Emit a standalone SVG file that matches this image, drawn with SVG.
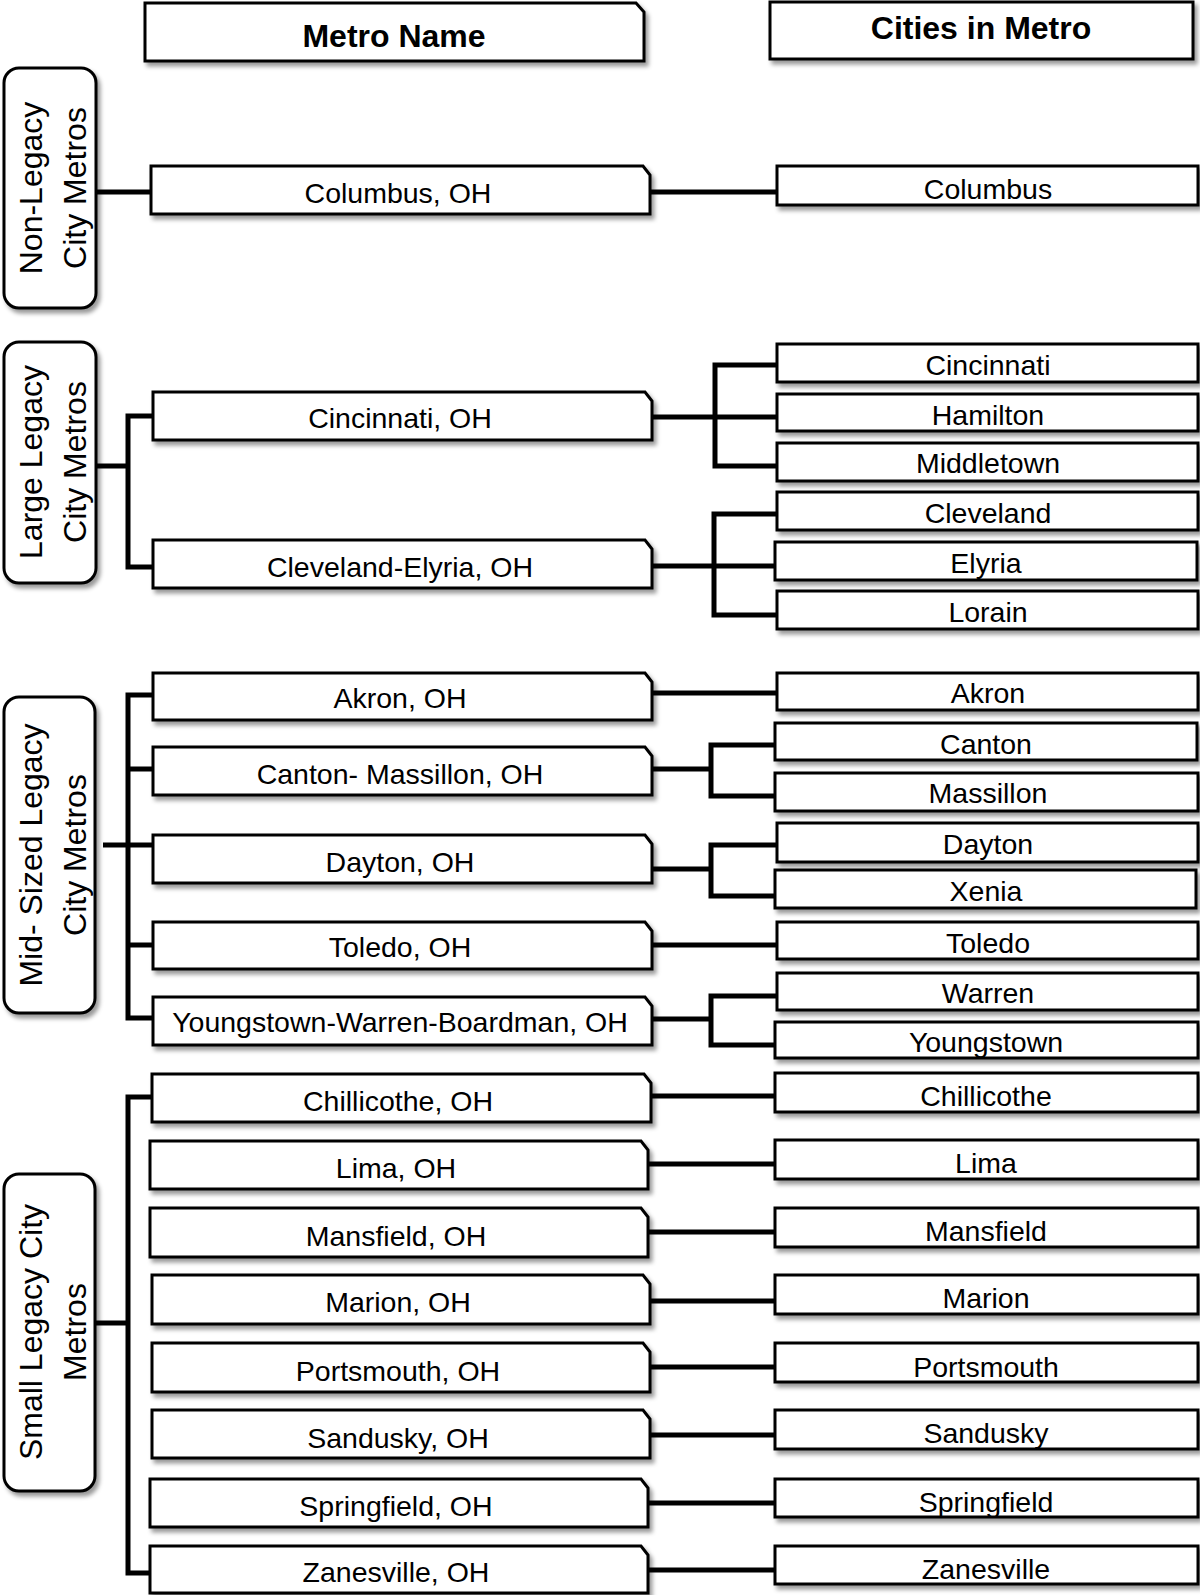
<svg xmlns="http://www.w3.org/2000/svg" width="1200" height="1595" viewBox="0 0 1200 1595">
<defs>
<filter id="sh" x="-5%" y="-20%" width="115%" height="160%">
<feDropShadow dx="3" dy="4" stdDeviation="2" flood-color="#000" flood-opacity="0.4"/>
</filter>
<style>
.box{fill:#fff;stroke:#000;stroke-width:3;filter:url(#sh)}
.cat{fill:#fff;stroke:#000;stroke-width:3;filter:url(#sh)}
.conn{fill:none;stroke:#000;stroke-width:5}
text{font-family:"Liberation Sans",Arial,sans-serif;fill:#000;text-anchor:middle}
.t{font-size:28.5px}
.h{font-size:32px;font-weight:bold}
.r{font-size:32px}
</style>
</defs>
<rect width="1200" height="1595" fill="#fff"/>

<g id="connectors">
<path class="conn" d="M96 192 H152 M650 192 H777"/>
<path class="conn" d="M96 466 H128 M153 416 H128 V567 H153"/>
<path class="conn" d="M777 365 H715 V466 H777 M652 417 H777"/>
<path class="conn" d="M777 514 H714 V615 H777 M652 566 H777"/>
<path class="conn" d="M103 845 H153 M153 695 H128 V1018 H153 M128 769 H153 M128 945 H153"/>
<path class="conn" d="M652 693 H777"/>
<path class="conn" d="M775 745 H711 V796 H775 M652 769 H711"/>
<path class="conn" d="M777 845 H711 V896 H775 M652 869 H711"/>
<path class="conn" d="M652 945 H777"/>
<path class="conn" d="M777 996 H711 V1045 H775 M652 1019 H711"/>
<path class="conn" d="M95 1323 H128 M152 1097 H128 V1573 H150"/>
<path class="conn" d="M651 1096 H775 M648 1164 H775 M648 1232 H775 M650 1301 H775 M650 1367 H775 M650 1435 H775 M648 1503 H775 M648 1570 H775"/>
</g>

<g id="hdr-metro"><path class="box" d="M145 3 H636 L644 12 V61 H145 Z"/><text class="h" x="394" y="47">Metro Name</text></g>
<g id="hdr-cities"><rect class="box" x="770" y="2" width="423" height="57"/><text class="h" x="981" y="39">Cities in Metro</text></g>

<g id="cat-nonlegacy"><rect class="cat" x="4" y="68" width="92" height="240" rx="15"/>
<text class="r" transform="translate(42 188) rotate(-90)">Non-Legacy</text>
<text class="r" transform="translate(86 188) rotate(-90)">City Metros</text></g>
<g id="cat-large"><rect class="cat" x="4" y="342" width="92" height="241" rx="15"/>
<text class="r" transform="translate(42 462) rotate(-90)">Large Legacy</text>
<text class="r" transform="translate(86 462) rotate(-90)">City Metros</text></g>
<g id="cat-mid"><rect class="cat" x="4" y="697" width="91" height="316" rx="15"/>
<text class="r" transform="translate(42 855) rotate(-90)">Mid- Sized Legacy</text>
<text class="r" transform="translate(86 855) rotate(-90)">City Metros</text></g>
<g id="cat-small"><rect class="cat" x="4" y="1174" width="91" height="317" rx="15"/>
<text class="r" transform="translate(42 1332) rotate(-90)">Small Legacy City</text>
<text class="r" transform="translate(86 1332) rotate(-90)">Metros</text></g>

<g id="m-columbus"><path class="box" d="M151 166 H643 L650 175 V214 H151 Z"/><text class="t" x="398" y="203">Columbus, OH</text></g>
<g id="m-cincinnati"><path class="box" d="M153 392 H645 L652 401 V440 H153 Z"/><text class="t" x="400" y="428">Cincinnati, OH</text></g>
<g id="m-cleveland"><path class="box" d="M153 540 H645 L652 549 V588 H153 Z"/><text class="t" x="400" y="577">Cleveland-Elyria, OH</text></g>
<g id="m-akron"><path class="box" d="M153 673 H645 L652 682 V720 H153 Z"/><text class="t" x="400" y="708">Akron, OH</text></g>
<g id="m-canton"><path class="box" d="M153 747 H645 L652 756 V795 H153 Z"/><text class="t" x="400" y="784">Canton- Massillon, OH</text></g>
<g id="m-dayton"><path class="box" d="M153 835 H645 L652 844 V883 H153 Z"/><text class="t" x="400" y="872">Dayton, OH</text></g>
<g id="m-toledo"><path class="box" d="M153 922 H645 L652 931 V969 H153 Z"/><text class="t" x="400" y="957">Toledo, OH</text></g>
<g id="m-youngstown"><path class="box" d="M153 997 H645 L652 1006 V1045 H153 Z"/><text class="t" x="400" y="1032">Youngstown-Warren-Boardman, OH</text></g>
<g id="m-chillicothe"><path class="box" d="M152 1074 H644 L651 1083 V1122 H152 Z"/><text class="t" x="398" y="1111">Chillicothe, OH</text></g>
<g id="m-lima"><path class="box" d="M150 1141 H641 L648 1150 V1189 H150 Z"/><text class="t" x="396" y="1178">Lima, OH</text></g>
<g id="m-mansfield"><path class="box" d="M150 1208 H641 L648 1217 V1257 H150 Z"/><text class="t" x="396" y="1246">Mansfield, OH</text></g>
<g id="m-marion"><path class="box" d="M152 1275 H643 L650 1284 V1324 H152 Z"/><text class="t" x="398" y="1312">Marion, OH</text></g>
<g id="m-portsmouth"><path class="box" d="M152 1343 H643 L650 1352 V1392 H152 Z"/><text class="t" x="398" y="1381">Portsmouth, OH</text></g>
<g id="m-sandusky"><path class="box" d="M152 1410 H643 L650 1419 V1458 H152 Z"/><text class="t" x="398" y="1448">Sandusky, OH</text></g>
<g id="m-springfield"><path class="box" d="M150 1479 H641 L648 1488 V1527 H150 Z"/><text class="t" x="396" y="1516">Springfield, OH</text></g>
<g id="m-zanesville"><path class="box" d="M150 1546 H641 L648 1555 V1593 H150 Z"/><text class="t" x="396" y="1582">Zanesville, OH</text></g>

<g id="c-columbus"><rect class="box" x="777" y="166" width="421" height="39"/><text class="t" x="988" y="199">Columbus</text></g>
<g id="c-cincinnati"><rect class="box" x="777" y="344" width="421" height="38"/><text class="t" x="988" y="375">Cincinnati</text></g>
<g id="c-hamilton"><rect class="box" x="777" y="394" width="421" height="37"/><text class="t" x="988" y="425">Hamilton</text></g>
<g id="c-middletown"><rect class="box" x="777" y="443" width="421" height="38"/><text class="t" x="988" y="473">Middletown</text></g>
<g id="c-cleveland"><rect class="box" x="777" y="492" width="421" height="38"/><text class="t" x="988" y="523">Cleveland</text></g>
<g id="c-elyria"><rect class="box" x="775" y="542" width="422" height="38"/><text class="t" x="986" y="573">Elyria</text></g>
<g id="c-lorain"><rect class="box" x="777" y="591" width="421" height="38"/><text class="t" x="988" y="622">Lorain</text></g>
<g id="c-akron"><rect class="box" x="777" y="673" width="421" height="37"/><text class="t" x="988" y="703">Akron</text></g>
<g id="c-canton"><rect class="box" x="775" y="723" width="422" height="37"/><text class="t" x="986" y="754">Canton</text></g>
<g id="c-massillon"><rect class="box" x="775" y="773" width="423" height="38"/><text class="t" x="988" y="803">Massillon</text></g>
<g id="c-dayton"><rect class="box" x="777" y="823" width="421" height="39"/><text class="t" x="988" y="854">Dayton</text></g>
<g id="c-xenia"><rect class="box" x="775" y="870" width="421" height="38"/><text class="t" x="986" y="901">Xenia</text></g>
<g id="c-toledo"><rect class="box" x="777" y="922" width="421" height="37"/><text class="t" x="988" y="953">Toledo</text></g>
<g id="c-warren"><rect class="box" x="777" y="973" width="421" height="37"/><text class="t" x="988" y="1003">Warren</text></g>
<g id="c-youngstown"><rect class="box" x="775" y="1022" width="423" height="36"/><text class="t" x="986" y="1052">Youngstown</text></g>
<g id="c-chillicothe"><rect class="box" x="775" y="1073" width="423" height="39"/><text class="t" x="986" y="1106">Chillicothe</text></g>
<g id="c-lima"><rect class="box" x="775" y="1140" width="423" height="39"/><text class="t" x="986" y="1173">Lima</text></g>
<g id="c-mansfield"><rect class="box" x="775" y="1208" width="423" height="39"/><text class="t" x="986" y="1241">Mansfield</text></g>
<g id="c-marion"><rect class="box" x="775" y="1275" width="423" height="39"/><text class="t" x="986" y="1308">Marion</text></g>
<g id="c-portsmouth"><rect class="box" x="775" y="1343" width="423" height="39"/><text class="t" x="986" y="1377">Portsmouth</text></g>
<g id="c-sandusky"><rect class="box" x="775" y="1410" width="423" height="39"/><text class="t" x="986" y="1443">Sandusky</text></g>
<g id="c-springfield"><rect class="box" x="775" y="1479" width="423" height="38"/><text class="t" x="986" y="1512">Springfield</text></g>
<g id="c-zanesville"><rect class="box" x="775" y="1546" width="423" height="38"/><text class="t" x="986" y="1579">Zanesville</text></g>
</svg>
